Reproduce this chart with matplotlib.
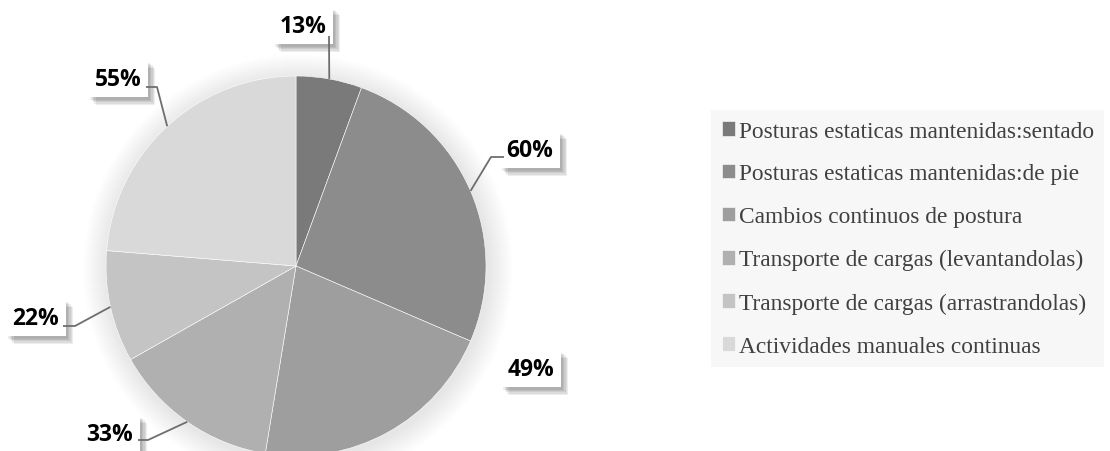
import matplotlib
matplotlib.use("Agg")
import matplotlib.pyplot as plt
import matplotlib.patheffects as pe
from matplotlib.patches import Circle
import numpy as np

# ---- data ----
categories = [
    "Posturas estaticas mantenidas:sentado",
    "Posturas estaticas mantenidas:de pie",
    "Cambios continuos de postura",
    "Transporte de cargas (levantandolas)",
    "Transporte de cargas (arrastrandolas)",
    "Actividades manuales continuas",
]
values = [13, 60, 49, 33, 22, 55]
labels = ["13%", "60%", "49%", "33%", "22%", "55%"]
colors = ["#7a7a7a", "#8c8c8c", "#9e9e9e", "#b0b0b0", "#c4c4c4", "#d9d9d9"]

# ---- layout (pixel units, y measured from the top) ----
W, H = 1110, 452
center_px = (296, 267)
radius_px = 190
label_text_pos = [(303, 27), (530, 151), (531, 370), (110, 435), (36, 319), (118, 80)]
leader_anchor = [(329, 37), (504, 158), None, (138, 441), (63, 327), (146, 88)]
leader_elbow = [(329, 37), (491, 158), None, (148, 441), (75, 327), (157, 88)]

def fy(y):
    return H - y

fig = plt.figure(figsize=(W / 100, H / 100), dpi=100)
ax = fig.add_axes([0, 0, 1, 1])

cx, cy = center_px[0], fy(center_px[1])

# soft shadow/glow behind the pie
for k in range(1, 26):
    ax.add_patch(Circle((cx + 2, cy - 3), radius_px + k, facecolor="black",
                        edgecolor="none", alpha=0.0055, zorder=0))

wedges, _ = ax.pie(values, colors=colors, startangle=90, counterclock=False,
                   center=(cx, cy), radius=radius_px,
                   wedgeprops=dict(edgecolor="white", linewidth=0.4))
for w in wedges:
    w.set_zorder(1)

ax.set_xlim(0, W)
ax.set_ylim(0, H)
ax.set_aspect("equal")
ax.axis("off")

shadow_effects = [pe.SimplePatchShadow(offset=(d, -d), shadow_rgbFace="#000000", alpha=0.07)
                  for d in (1.5, 2.5, 3.5, 4.5, 5.5)] + [pe.Normal()]

# data labels with boxes + soft shadow
for i, (w, lab) in enumerate(zip(wedges, labels)):
    tx, ty = label_text_pos[i]
    t = ax.text(tx, fy(ty), lab, ha="center", va="center",
                fontsize=16.5, fontweight="bold", family="Open Sans",
                color="black", zorder=5,
                bbox=dict(boxstyle="square,pad=0.28", fc="white", ec="none"))
    t.get_bbox_patch().set_path_effects(shadow_effects)
    if leader_anchor[i] is not None:
        mid = np.deg2rad((w.theta1 + w.theta2) / 2)
        ex = cx + radius_px * np.cos(mid)
        ey = cy + radius_px * np.sin(mid)
        ax_, ay_ = leader_anchor[i]
        bx_, by_ = leader_elbow[i]
        ax.plot([ax_, bx_, ex], [fy(ay_), fy(by_), ey], color="#6e6e6e",
                lw=1.3, zorder=6, solid_capstyle="butt")

# legend
leg = ax.legend(wedges, categories, loc="upper left",
                bbox_to_anchor=(711 / W, 1 - 111 / H), bbox_transform=fig.transFigure,
                borderaxespad=0, frameon=True, fancybox=False, framealpha=1,
                facecolor="#f7f7f7", edgecolor="none",
                prop=dict(family="Liberation Serif", size=16.8),
                handlelength=0.58, handleheight=0.58, handletextpad=0.15,
                labelspacing=0.94, borderpad=0.45)
for txt in leg.get_texts():
    txt.set_color("#404040")

fig.savefig("out.png", dpi=100)
